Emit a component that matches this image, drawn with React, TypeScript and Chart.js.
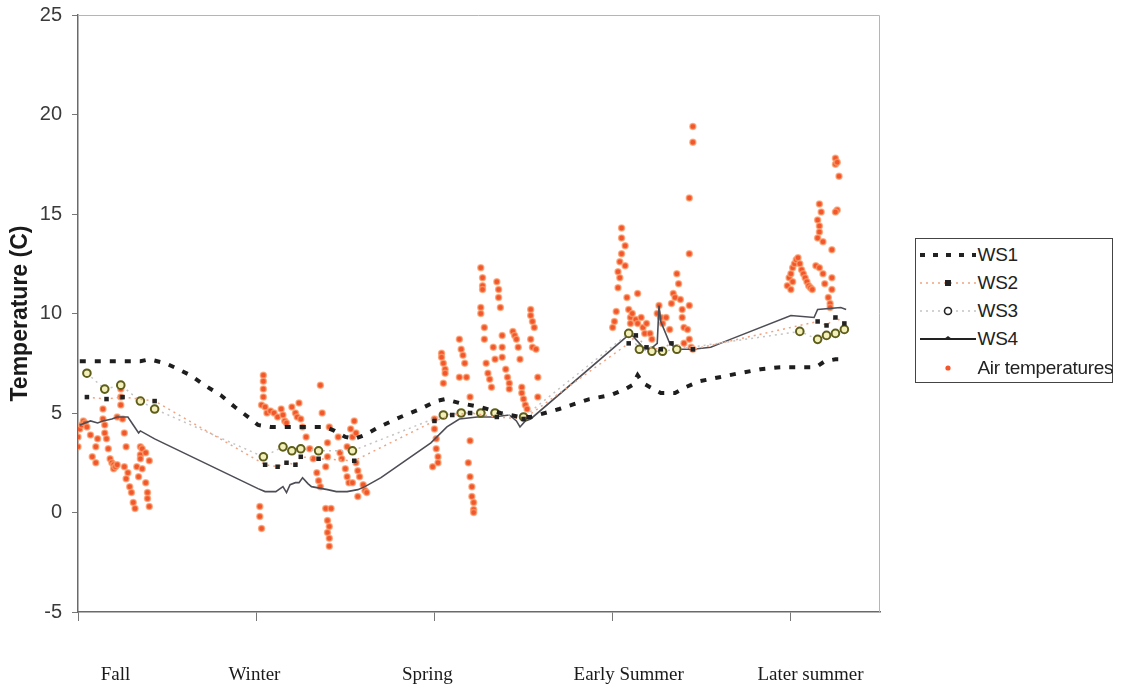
import React, { useEffect, useRef } from 'react';
import { Chart, registerables } from 'chart.js';
Chart.register(...registerables);

// x in days from start of fall (100 days per season tick), y in deg C
const xTicks = [0, 100, 200, 300, 400];
const seasonLabels = ['Fall', 'Winter', 'Spring', 'Early Summer', 'Later summer'];
const seasonLabelPos = [21, 99, 196, 309, 411];
const legendLabels = ['WS1', 'WS2', 'WS3', 'WS4', 'Air temperatures'];

const ws1 = [[1,7.6],[10,7.6],[18,7.6],[26,7.6],[35,7.6],[40,7.7],[49,7.5],[54,7.3],[63,6.9],[71,6.4],[80,5.9],[88,5.3],[97,4.7],[101,4.4],[108,4.3],[119,4.3],[130,4.3],[139,4.3],[144,4.1],[150,3.8],[155,3.7],[161,3.9],[169,4.3],[181,4.8],[192,5.2],[201,5.6],[206,5.7],[214,5.5],[226,5.3],[237,5.0],[248,4.8],[254,4.8],[270,5.2],[287,5.7],[299,5.9],[307,6.2],[311,6.4],[314,6.9],[317,6.5],[321,6.3],[327,6.0],[335,6.0],[341,6.3],[349,6.6],[360,6.8],[371,7.0],[383,7.2],[394,7.3],[405,7.3],[414,7.3],[419,7.6],[425,7.7],[428,7.7]];

const ws2 = [[5,5.8],[16,5.7],[25,5.8],[43,5.6],[105,2.4],[112,2.3],[117,2.5],[122,2.4],[125,2.8],[135,2.7],[155,2.6],[200,4.6],[210,4.9],[220,5.0],[235,4.8],[250,4.7],[309,8.5],[313,8.9],[319,8.3],[327,8.2],[333,8.5],[345,8.2],[415,9.6],[420,9.4],[425,9.8],[430,9.5]];

const ws3 = [[5,7.0],[15,6.2],[24,6.4],[35,5.6],[43,5.2],[104,2.8],[115,3.3],[120,3.1],[125,3.2],[135,3.1],[154,3.1],[205,4.9],[215,5.0],[226,5.0],[234,5.0],[250,4.8],[309,9.0],[315,8.2],[322,8.1],[328,8.1],[336,8.2],[405,9.1],[415,8.7],[420,8.9],[425,9.0],[430,9.2]];

const ws4 = [[1,4.4],[7,4.6],[11,4.5],[14,4.6],[19,4.7],[22,4.8],[25,4.8],[28,4.8],[31,4.4],[34,4.0],[35,4.1],[43,3.7],[101,1.2],[105,1.05],[111,1.05],[115,1.3],[117,1.0],[119,1.4],[122,1.5],[124,1.5],[126,1.75],[129,1.45],[131,1.3],[134,1.25],[140,1.15],[145,1.05],[151,1.05],[157,1.15],[161,1.3],[165,1.5],[170,1.75],[198,3.5],[207,4.3],[214,4.7],[224,4.8],[233,4.8],[242,4.9],[246,4.6],[248,4.3],[251,4.6],[254,4.7],[308,8.85],[310,9.0],[313,8.7],[317,8.3],[321,8.2],[325,8.5],[326,10.4],[327,9.6],[332,8.5],[336,8.2],[345,8.2],[355,8.3],[366,8.7],[400,9.9],[413,9.8],[415,10.2],[428,10.3],[431,10.2]];

const airFall = [[0,3.8],[0,3.3],[1,4.2],[2,4.4],[3,4.6],[4,4.5],[5,4.3],[7,3.9],[8,2.8],[10,3.3],[10,2.5],[11,3.7],[14,5.2],[14,4.7],[15,4.4],[15,4.0],[16,3.7],[17,3.2],[18,2.7],[19,2.5],[20,2.4],[20,2.2],[21,2.3],[22,2.4],[24,6.4],[24,6.2],[24,5.8],[24,5.4],[22,4.8],[25,4.7],[26,4.0],[27,3.3],[26,2.3],[28,2.0],[27,1.7],[29,1.3],[30,1.0],[31,0.5],[32,0.2],[33,2.3],[35,3.3],[35,2.9],[35,2.7],[36,3.2],[36,2.2],[34,1.8],[38,1.5],[39,1.0],[39,0.7],[40,0.3],[38,3.0],[40,2.6]];

const airWinter = [[104,6.9],[104,6.6],[104,6.2],[104,5.8],[103,5.4],[102,0.3],[102,-0.2],[103,-0.8],[105,5.3],[106,5.0],[108,5.1],[110,5.0],[112,4.8],[114,5.2],[115,4.9],[116,4.6],[117,4.5],[120,5.3],[122,5.0],[123,4.8],[124,5.5],[125,4.7],[126,4.3],[128,3.8],[130,3.2],[132,2.7],[134,2.0],[135,1.6],[136,1.3],[137,5.0],[136,6.4],[141,4.3],[140,3.5],[140,2.8],[139,2.3],[139,0.2],[142,0.2],[140,-0.4],[141,-0.7],[140,-1.0],[141,-1.3],[141,-1.7],[146,3.8],[147,3.0],[148,2.7],[150,2.2],[151,1.8],[152,1.5],[151,3.3],[154,3.8],[155,4.6],[156,2.5],[157,2.1],[158,1.8],[157,0.8],[160,1.4],[161,1.1],[162,1.0],[154,1.5],[153,4.2],[156,4.0]];

const airSpring = [[204,8.0],[204,7.8],[205,7.5],[206,7.2],[206,7.0],[205,6.5],[200,4.7],[200,4.2],[201,3.7],[201,3.2],[202,2.8],[202,2.5],[199,2.3],[214,8.7],[215,8.2],[216,7.9],[217,7.5],[214,6.8],[218,6.8],[220,5.8],[220,3.6],[219,2.5],[220,1.8],[221,1.3],[221,0.8],[222,0.5],[222,0.15],[222,0.0],[226,12.3],[227,11.8],[227,11.4],[227,11.2],[226,10.3],[226,10.0],[228,9.3],[228,8.7],[229,7.5],[230,7.0],[231,6.7],[232,6.3],[233,8.3],[234,7.7],[235,11.6],[236,11.2],[236,10.8],[237,10.3],[238,8.9],[238,8.3],[238,7.8],[240,7.2],[241,6.8],[242,6.5],[242,6.2],[244,9.1],[245,8.9],[246,8.7],[247,8.3],[248,7.7],[249,6.3],[249,6.0],[250,5.7],[251,5.4],[252,5.2],[254,10.2],[254,9.9],[255,9.6],[256,9.3],[254,8.7],[255,8.3],[257,8.2],[258,6.8],[258,5.8]];

const airEarlySummer = [[345,19.4],[345,18.6],[343,15.8],[343,13.0],[343,10.4],[305,14.3],[305,13.8],[307,13.4],[305,13.0],[304,12.6],[307,12.4],[303,12.1],[304,11.8],[303,11.3],[308,10.8],[314,11.0],[302,10.1],[301,9.6],[300,9.3],[309,10.2],[310,9.8],[310,9.5],[311,10.0],[313,9.7],[314,9.5],[316,9.8],[317,9.3],[318,9.0],[319,9.5],[321,9.0],[322,8.7],[325,10.0],[326,10.4],[327,9.8],[328,9.5],[330,9.8],[332,9.2],[333,10.5],[334,11.0],[336,12.0],[337,11.5],[335,10.8],[338,10.7],[339,10.2],[339,9.8],[340,9.3],[342,9.2],[343,8.7],[340,8.5],[344,8.3],[345,8.2]];

const airLaterSummer = [[398,11.4],[399,11.8],[400,12.0],[401,12.3],[402,12.5],[403,12.7],[404,12.8],[405,12.5],[406,12.2],[407,12.0],[408,11.8],[409,11.6],[410,11.4],[411,11.3],[412,11.2],[401,11.6],[400,11.2],[425,17.8],[425,17.5],[426,17.6],[427,16.9],[416,15.5],[417,15.1],[415,14.7],[416,14.4],[416,14.1],[426,15.2],[425,15.1],[415,13.8],[418,13.6],[423,13.2],[414,12.4],[416,12.3],[418,12.0],[423,11.8],[419,11.5],[423,11.2],[421,10.8],[422,10.5],[422,10.3]];

const toXY = (arr: number[][]) => arr.map(([x, y]) => ({ x, y }));

const AIR_COLOR = '#f2562a';

const framePlugin = {
  id: 'frameAndSeasons',
  beforeDatasetsDraw(chart: any) {
    const { ctx, chartArea: a } = chart;
    ctx.save();
    ctx.strokeStyle = '#b5b5b5';
    ctx.lineWidth = 1;
    ctx.beginPath();
    ctx.moveTo(a.left, a.top + 0.5);
    ctx.lineTo(a.right - 0.5, a.top + 0.5);
    ctx.lineTo(a.right - 0.5, a.bottom);
    ctx.stroke();
    ctx.restore();
  },
  afterDraw(chart: any) {
    const { ctx, chartArea: a, scales } = chart;
    ctx.save();
    ctx.fillStyle = '#1a1a1a';
    ctx.font = '19px "Liberation Serif", "Times New Roman", serif';
    ctx.textAlign = 'center';
    ctx.textBaseline = 'middle';
    seasonLabels.forEach((t, i) => {
      ctx.fillText(t, scales.x.getPixelForValue(seasonLabelPos[i]), a.bottom + 63);
    });
    ctx.restore();
  },
};

function LegendSample({ i }: { i: number }) {
  const w = 58, h = 28, c = h / 2;
  if (i === 0)
    return (
      <svg width={w} height={h}>
        <line x1={2} x2={w} y1={c} y2={c} stroke="#222" strokeWidth={4} strokeDasharray="5 8" />
      </svg>
    );
  if (i === 1)
    return (
      <svg width={w} height={h}>
        <line x1={2} x2={w} y1={c} y2={c} stroke="#f2a27e" strokeWidth={1.5} strokeDasharray="2 4" />
        <rect x={27} y={c - 3} width={6} height={6} fill="#222" />
      </svg>
    );
  if (i === 2)
    return (
      <svg width={w} height={h}>
        <line x1={2} x2={w} y1={c} y2={c} stroke="#c4c4c4" strokeWidth={1.5} strokeDasharray="2 4" />
        <circle cx={30} cy={c} r={3.5} fill="#fff" stroke="#222" strokeWidth={1.6} />
      </svg>
    );
  if (i === 3)
    return (
      <svg width={w} height={h}>
        <line x1={2} x2={w} y1={c} y2={c} stroke="#222" strokeWidth={1.8} />
        <polygon points={`26,${c} 30,${c - 3} 34,${c}`} fill="#222" />
      </svg>
    );
  return (
    <svg width={w} height={h}>
      <circle cx={30} cy={c} r={2.6} fill={AIR_COLOR} />
    </svg>
  );
}

export default function App() {
  const ref = useRef<HTMLCanvasElement | null>(null);

  useEffect(() => {
    if (!ref.current) return;
    const chart = new Chart(ref.current, {
      type: 'scatter',
      data: {
        datasets: [
          {
            label: 'WS1',
            data: toXY(ws1),
            showLine: true,
            borderColor: '#1e1e1e',
            borderWidth: 4,
            borderDash: [6, 9],
            pointRadius: 0,
          },
          {
            label: 'WS2',
            data: toXY(ws2),
            showLine: true,
            borderColor: '#f2a27e',
            borderWidth: 1.5,
            borderDash: [2, 4],
            pointStyle: 'rect',
            pointRadius: 3.2,
            pointBackgroundColor: '#222',
            pointBorderColor: '#222',
            pointBorderWidth: 0,
          },
          {
            label: 'WS3',
            data: toXY(ws3),
            showLine: true,
            borderColor: '#c4c4c4',
            borderWidth: 1.5,
            borderDash: [2, 4],
            pointStyle: 'circle',
            pointRadius: 3.8,
            pointBackgroundColor: '#f4f0bc',
            pointBorderColor: '#5e5e1a',
            pointBorderWidth: 2,
          },
          {
            label: 'WS4',
            data: toXY(ws4),
            showLine: true,
            borderColor: '#4d4d55',
            borderWidth: 1.6,
            pointRadius: 0,
          },
          {
            label: 'Air temperatures',
            data: toXY([...airFall, ...airWinter, ...airSpring, ...airEarlySummer, ...airLaterSummer]),
            showLine: false,
            pointRadius: 3,
            pointBackgroundColor: AIR_COLOR,
            pointBorderColor: 'rgba(250,160,110,0.7)',
            pointBorderWidth: 1.5,
          },
        ],
      },
      options: {
        responsive: false,
        animation: false,
        events: [],
        layout: { padding: { left: 0, right: 244, top: 15, bottom: 0 } },
        plugins: { legend: { display: false }, tooltip: { enabled: false } },
        scales: {
          x: {
            type: 'linear',
            min: 0,
            max: 450,
            afterBuildTicks: (scale: any) => {
              scale.ticks = xTicks.map((v) => ({ value: v }));
            },
            afterFit: (scale: any) => {
              scale.height = 82;
              scale.paddingLeft = 0;
              scale.paddingRight = 0;
            },
            ticks: { callback: () => '' },
            grid: { display: true, drawOnChartArea: false, drawTicks: true, tickLength: 9, color: '#777', lineWidth: 1 },
            border: { display: true, color: '#6a6a6a', width: 1.5 },
          },
          y: {
            type: 'linear',
            min: -5,
            max: 25,
            ticks: {
              stepSize: 5,
              padding: 10,
              color: '#3a3a3a',
              font: { family: '"Liberation Sans", Arial, sans-serif', size: 20 },
            },
            afterFit: (scale: any) => {
              scale.width = 78;
              scale.paddingTop = 0;
              scale.paddingBottom = 0;
            },
            grid: { display: true, drawOnChartArea: false, drawTicks: true, tickLength: 6, color: '#777', lineWidth: 1 },
            border: { display: true, color: '#6a6a6a', width: 1.5 },
            title: {
              display: true,
              text: 'Temperature (C)',
              color: '#1a1a1a',
              font: { family: '"Liberation Sans", Arial, sans-serif', size: 23, weight: 'bold' },
              padding: { top: 7, bottom: 0 },
            },
          },
        },
      },
      plugins: [framePlugin],
    } as any);
    return () => chart.destroy();
  }, []);

  return (
    <div style={{ position: 'absolute', left: 0, top: 0, width: 1124, height: 694, background: '#fff' }}>
      <canvas ref={ref} width={1124} height={694} style={{ display: 'block' }} />
      <div
        style={{
          position: 'absolute',
          left: 915,
          top: 238,
          width: 198,
          height: 145,
          border: '1.5px solid #444',
          boxSizing: 'border-box',
          background: '#fff',
        }}
      >
        {legendLabels.map((t, i) => (
          <div
            key={t}
            style={{
              position: 'absolute',
              left: 1.5,
              top: 1.5 + i * 28.3,
              height: 28,
              display: 'flex',
              alignItems: 'center',
              whiteSpace: 'nowrap',
            }}
          >
            <LegendSample i={i} />
            <span
              style={{
                marginLeft: 2,
                fontFamily: '"Liberation Sans", Arial, sans-serif',
                fontSize: 19,
                letterSpacing: -0.3,
                color: '#222',
              }}
            >
              {t}
            </span>
          </div>
        ))}
      </div>
    </div>
  );
}
